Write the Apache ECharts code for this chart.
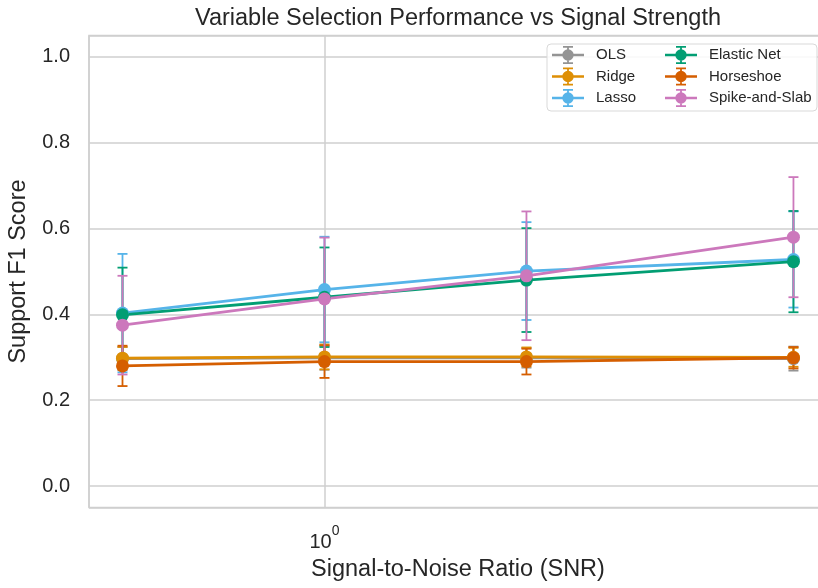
<!DOCTYPE html>
<html>
<head>
<meta charset="utf-8">
<script src="https://cdn.jsdelivr.net/npm/echarts@6/dist/echarts.min.js"></script>
<style>
  html, body { margin: 0; padding: 0; background: #fff; }
  #chart { width: 818px; height: 588px; }
</style>
</head>
<body>
<div id="chart"></div>
<script>
// SNR levels (x) and per-method mean F1 / error half-width
const snr = [0.5, 1, 2, 5];

const olsMean = [0.297, 0.299, 0.299, 0.297];
const olsErr = [0.027, 0.028, 0.023, 0.028];
const ridgeMean = [0.298, 0.301, 0.301, 0.300];
const ridgeErr = [0.026, 0.029, 0.022, 0.022];
const lassoMean = [0.403, 0.458, 0.501, 0.528];
const lassoErr = [0.138, 0.123, 0.114, 0.112];
const enetMean = [0.399, 0.440, 0.480, 0.523];
const enetErr = [0.110, 0.116, 0.121, 0.118];
const hsMean = [0.280, 0.290, 0.290, 0.299];
const hsErr = [0.047, 0.038, 0.030, 0.025];
const ssMean = [0.375, 0.436, 0.490, 0.580];
const ssErr = [0.115, 0.143, 0.150, 0.140];

const yTicks = [0, 0.2, 0.4, 0.6, 0.8, 1.0];

const methods = [
  { name: 'OLS', mean: olsMean, err: olsErr, color: '#949494' },
  { name: 'Ridge', mean: ridgeMean, err: ridgeErr, color: '#de8f05' },
  { name: 'Lasso', mean: lassoMean, err: lassoErr, color: '#56b4e9' },
  { name: 'Elastic Net', mean: enetMean, err: enetErr, color: '#029e73' },
  { name: 'Horseshoe', mean: hsMean, err: hsErr, color: '#d55e00' },
  { name: 'Spike-and-Slab', mean: ssMean, err: ssErr, color: '#cc78bc' }
];

const txt = '#262626';
const gridCol = '#cfcfcf';
const font = 'Liberation Sans, Arial, sans-serif';

// line + marker + error bar glyph for the legend
const legendIcon = 'path://M0 7.75H32V10.25H0Z' +
  'M15.1 0.8H16.9V17.2H15.1Z' +
  'M11 0H21V1.8H11Z' +
  'M11 16.2H21V18H11Z' +
  'M10.3 9A5.7 5.7 0 1 1 21.7 9A5.7 5.7 0 1 1 10.3 9Z';

function errorBars(params, api) {
  const x = api.value(0);
  const top = api.coord([x, api.value(2)]);
  const bot = api.coord([x, api.value(1)]);
  const c = api.visual('color');
  const w = 5;
  const st = { stroke: c, lineWidth: 1.8 };
  return {
    type: 'group',
    children: [
      { type: 'line', shape: { x1: top[0], y1: top[1], x2: bot[0], y2: bot[1] }, style: st },
      { type: 'line', shape: { x1: top[0] - w, y1: top[1], x2: top[0] + w, y2: top[1] }, style: st },
      { type: 'line', shape: { x1: bot[0] - w, y1: bot[1], x2: bot[0] + w, y2: bot[1] }, style: st }
    ]
  };
}

const series = [];
methods.forEach(function (m) {
  series.push({
    name: m.name,
    type: 'custom',
    renderItem: errorBars,
    itemStyle: { color: m.color },
    encode: { x: 0, y: [1, 2] },
    data: snr.map(function (s, i) { return [s, m.mean[i] - m.err[i], m.mean[i] + m.err[i]]; }),
    silent: true
  });
  series.push({
    name: m.name,
    type: 'line',
    data: snr.map(function (s, i) { return [s, m.mean[i]]; }),
    symbol: 'circle',
    symbolSize: 13,
    showSymbol: true,
    itemStyle: { color: m.color },
    lineStyle: { color: m.color, width: 2.8 }
  });
});

function legendBlock(names, left) {
  return {
    orient: 'vertical',
    left: left,
    top: 46,
    itemWidth: 32,
    itemHeight: 18,
    itemGap: 3.5,
    padding: 0,
    z: 20,
    selectedMode: false,
    textStyle: { color: txt, fontSize: 15, fontFamily: font, padding: [0, 0, 0, 7] },
    data: names.map(function (n) { return { name: n, icon: legendIcon }; })
  };
}

const chart = echarts.init(document.getElementById('chart'));
chart.setOption({
  animation: false,
  backgroundColor: '#fff',
  title: {
    text: 'Variable Selection Performance vs Signal Strength',
    left: 458,
    top: 7,
    textAlign: 'center',
    padding: 0,
    textStyle: { color: txt, fontSize: 23.5, fontWeight: 'normal', fontFamily: font }
  },
  grid: {
    left: 89, right: -9, top: 35.5, bottom: 80.5,
    show: true, borderColor: gridCol, borderWidth: 1.5,
    containLabel: false, outerBoundsMode: 'none'
  },
  legend: [
    legendBlock(['OLS', 'Ridge', 'Lasso'], 552),
    legendBlock(['Elastic Net', 'Horseshoe', 'Spike-and-Slab'], 665)
  ],
  graphic: [{
    type: 'rect',
    z: 15,
    shape: { x: 547, y: 44, width: 270, height: 67, r: 4 },
    style: { fill: 'rgba(255,255,255,0.85)', stroke: '#d9d9d9', lineWidth: 1 }
  }],
  xAxis: {
    type: 'log',
    logBase: 10,
    min: 0.4457,
    max: 5.61,
    name: 'Signal-to-Noise Ratio (SNR)',
    nameLocation: 'middle',
    nameGap: 50,
    nameTextStyle: { color: txt, fontSize: 23.5, fontFamily: font },
    axisLine: { show: false },
    axisTick: { show: false },
    splitLine: { show: true, lineStyle: { color: gridCol, width: 1.5 } },
    axisLabel: {
      showMinLabel: false,
      showMaxLabel: false,
      margin: 17,
      formatter: function (v) { return Math.abs(v - 1) < 1e-6 ? '{b|10}{s|0}' : ''; },
      rich: {
        b: { fontSize: 20, color: txt, fontFamily: font, verticalAlign: 'bottom', lineHeight: 28 },
        s: { fontSize: 14, color: txt, fontFamily: font, verticalAlign: 'top', lineHeight: 28 }
      }
    }
  },
  yAxis: {
    type: 'value',
    min: -0.05,
    max: 1.05,
    splitNumber: 5,
    name: 'Support F1 Score',
    nameLocation: 'middle',
    nameGap: 58,
    nameTextStyle: { color: txt, fontSize: 23.5, fontFamily: font },
    axisLine: { show: false },
    axisTick: { show: false },
    splitLine: { show: true, lineStyle: { color: gridCol, width: 1.5 } },
    axisLabel: {
      showMinLabel: false,
      showMaxLabel: false,
      margin: 19,
      color: txt,
      fontSize: 20,
      fontFamily: font,
      formatter: function (v) {
        return yTicks.some(function (t) { return Math.abs(t - v) < 1e-6; }) ? v.toFixed(1) : '';
      }
    }
  },
  series: series
});
</script>
</body>
</html>
